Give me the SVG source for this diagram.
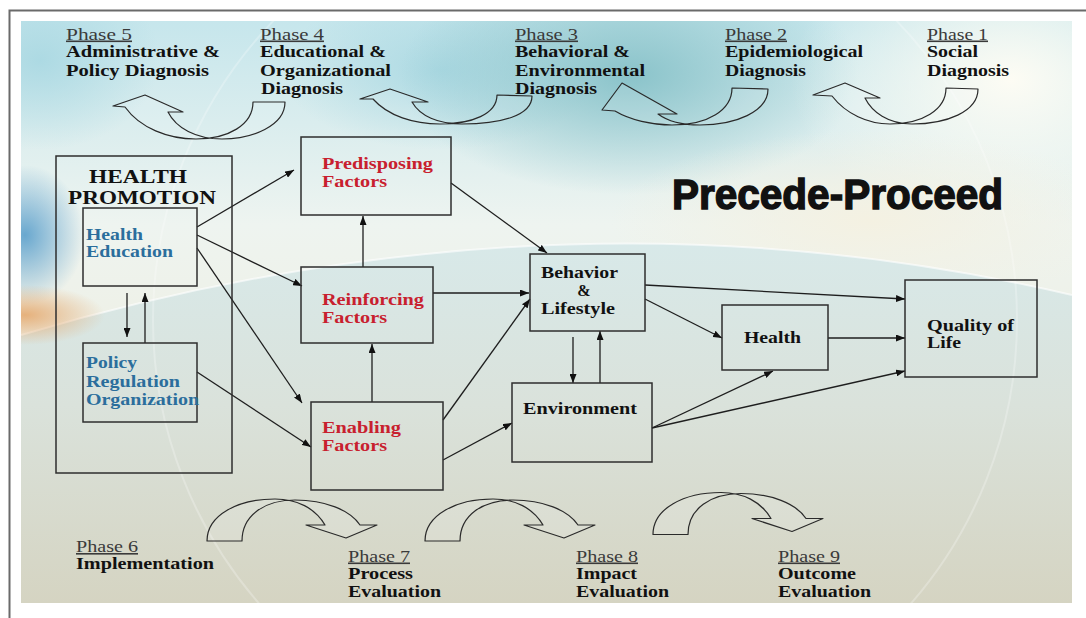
<svg xmlns="http://www.w3.org/2000/svg" width="1086" height="618" viewBox="0 0 1086 618">
<defs>
<style>
.ph{font-family:"Liberation Serif",serif;font-size:16px;fill:#3a3a3a;text-decoration:underline;}
.bd{font-family:"Liberation Serif",serif;font-size:16px;font-weight:bold;fill:#111;}
.red{font-family:"Liberation Serif",serif;font-size:16px;font-weight:bold;fill:#c8202e;}
.blue{font-family:"Liberation Serif",serif;font-size:16px;font-weight:bold;fill:#2b6e9c;}
.hp{font-family:"Liberation Serif",serif;font-size:18px;font-weight:bold;fill:#111;}
.title{font-family:"Liberation Sans",Arial,sans-serif;font-size:42px;font-weight:bold;fill:#111;stroke:#111;stroke-width:1.4;}
.box{fill:none;stroke:#2e2e2e;stroke-width:1.5;}
.con{stroke:#1e1e1e;stroke-width:1.3;fill:none;marker-end:url(#ah);}
.curv{fill:#ffffff;fill-opacity:0.12;stroke:#2a2a2a;stroke-width:1.2;stroke-linejoin:round;}
</style>
<marker id="ah" markerUnits="userSpaceOnUse" markerWidth="9" markerHeight="7" refX="9" refY="3.5" orient="auto">
<path d="M0,0 L9,3.5 L0,7 Z" fill="#111"/>
</marker>
<linearGradient id="gbase" x1="0" y1="0" x2="0" y2="1">
<stop offset="0" stop-color="#c6e6ec"/>
<stop offset="0.35" stop-color="#eef4f0"/>
<stop offset="0.5" stop-color="#eef1e8"/>
<stop offset="1" stop-color="#e2e2d4"/>
</linearGradient>
<linearGradient id="gdome" x1="0" y1="0" x2="0" y2="1">
<stop offset="0" stop-color="#d8e9e9"/>
<stop offset="0.45" stop-color="#dae2db"/>
<stop offset="1" stop-color="#d5d4c2"/>
</linearGradient>
<radialGradient id="gteal" cx="0.5" cy="0.5" r="0.5">
<stop offset="0" stop-color="#86c1c8" stop-opacity="0.95"/>
<stop offset="1" stop-color="#86c1c8" stop-opacity="0"/>
</radialGradient>
<radialGradient id="gblue" cx="0.5" cy="0.5" r="0.5">
<stop offset="0" stop-color="#5a9fcb" stop-opacity="0.9"/>
<stop offset="1" stop-color="#5a9fcb" stop-opacity="0"/>
</radialGradient>
<radialGradient id="gorange" cx="0.5" cy="0.5" r="0.5">
<stop offset="0" stop-color="#e5aa70" stop-opacity="0.9"/>
<stop offset="1" stop-color="#e5aa70" stop-opacity="0"/>
</radialGradient>
<radialGradient id="gcream" cx="0.5" cy="0.5" r="0.5">
<stop offset="0" stop-color="#fdfcf4" stop-opacity="1"/>
<stop offset="1" stop-color="#fdfcf4" stop-opacity="0"/>
</radialGradient>
<radialGradient id="gcream2" cx="0.5" cy="0.5" r="0.5">
<stop offset="0" stop-color="#f4f1e2" stop-opacity="1"/>
<stop offset="1" stop-color="#f4f1e2" stop-opacity="0"/>
</radialGradient>
<radialGradient id="glblue" cx="0.5" cy="0.5" r="0.5">
<stop offset="0" stop-color="#a9d8e2" stop-opacity="0.9"/>
<stop offset="1" stop-color="#a9d8e2" stop-opacity="0"/>
</radialGradient>
<clipPath id="bgclip"><rect x="21" y="21" width="1051" height="582"/></clipPath>
</defs>

<rect x="0" y="0" width="1086" height="618" fill="#ffffff"/>
<path d="M9.5,618 L9.5,10.5 L1086,10.5" fill="none" stroke="#6a6a6a" stroke-width="2"/>

<g id="background" clip-path="url(#bgclip)">
<rect x="21" y="21" width="1051" height="582" fill="url(#gbase)"/>
<ellipse cx="440" cy="70" rx="160" ry="80" fill="url(#glblue)"/>
<ellipse cx="630" cy="75" rx="230" ry="120" fill="url(#gteal)"/>
<ellipse cx="40" cy="60" rx="120" ry="90" fill="url(#glblue)"/>
<ellipse cx="1010" cy="80" rx="220" ry="150" fill="url(#gcream)"/>
<ellipse cx="870" cy="220" rx="260" ry="90" fill="url(#gcream2)"/>
<ellipse cx="25" cy="235" rx="60" ry="70" fill="url(#gblue)"/>
<path d="M21,335 Q560,175 1072,295 L1072,603 L21,603 Z" fill="url(#gdome)"/>
<path d="M21,335 Q560,175 1072,295" fill="none" stroke="#ffffff" stroke-opacity="0.6" stroke-width="2"/>
<ellipse cx="25" cy="315" rx="80" ry="30" fill="url(#gorange)"/>
<circle cx="585" cy="320" r="432" fill="none" stroke="#ffffff" stroke-opacity="0.25" stroke-width="2"/>
</g>

<g id="curved-arrows">
<path id="arc-p5" class="curv" d="M253,102 L285,102 C285,126 252,139 222,139 C196,139 176,128 168,112 L183,112 L145,95 L113,106 L125,107 C140,128 168,139 196,139 C228,139 253,125 253,102 Z"/>
<path id="arc-p4" class="curv" d="M497,95 L532,96 C532,116 500,124 462,124 C438,124 420,116 412,102 L428,102 L390,89 L360,99 L373,99 C388,116 414,124 440,124 C472,124 497,114 497,95 Z"/>
<path id="arc-p3" class="curv" d="M732,88 L768,89 C768,112 735,125 700,125 C680,125 666,120 658,114 L677,114 L622,83 L602,110 L615,111 C630,120 652,125 672,125 C708,125 732,110 732,88 Z"/>
<path id="arc-p2" class="curv" d="M946,88 L978,89 C978,112 946,124 912,124 C888,124 872,112 865,98 L880,98 L845,83 L813,95 L832,96 C846,114 868,124 890,124 C922,124 946,110 946,88 Z"/>
<path id="arc-p6" class="curv" d="M207,541 L242,541 C242,515 265,500 295,500 C325,500 350,510 360,525 L377,525 L346,538 L306,525 L325,525 C315,508 297,499 275,499 C238,499 207,515 207,541 Z"/>
<path id="arc-p7" class="curv" transform="translate(218,0)" d="M207,541 L242,541 C242,515 265,500 295,500 C325,500 350,510 360,525 L377,525 L346,538 L306,525 L325,525 C315,508 297,499 275,499 C238,499 207,515 207,541 Z"/>
<path id="arc-p8" class="curv" transform="translate(446,-6.5)" d="M207,541 L242,541 C242,515 265,500 295,500 C325,500 350,510 360,525 L377,525 L346,538 L306,525 L325,525 C315,508 297,499 275,499 C238,499 207,515 207,541 Z"/>
</g>

<g id="phase-labels">
<text class="ph" x="66" y="39.5" textLength="66" lengthAdjust="spacingAndGlyphs">Phase 5</text>
<text class="bd" x="66" y="57" textLength="154" lengthAdjust="spacingAndGlyphs">Administrative &amp;</text>
<text class="bd" x="66" y="75.5" textLength="143" lengthAdjust="spacingAndGlyphs">Policy Diagnosis</text>
<text class="ph" x="260" y="39.5" textLength="64" lengthAdjust="spacingAndGlyphs">Phase 4</text>
<text class="bd" x="260" y="57" textLength="126" lengthAdjust="spacingAndGlyphs">Educational &amp;</text>
<text class="bd" x="260" y="75.5" textLength="131" lengthAdjust="spacingAndGlyphs">Organizational</text>
<text class="bd" x="261" y="93.5" textLength="82" lengthAdjust="spacingAndGlyphs">Diagnosis</text>
<text class="ph" x="515" y="39.5" textLength="63" lengthAdjust="spacingAndGlyphs">Phase 3</text>
<text class="bd" x="515" y="57" textLength="115" lengthAdjust="spacingAndGlyphs">Behavioral &amp;</text>
<text class="bd" x="515" y="75.5" textLength="130" lengthAdjust="spacingAndGlyphs">Environmental</text>
<text class="bd" x="515" y="93.5" textLength="82" lengthAdjust="spacingAndGlyphs">Diagnosis</text>
<text class="ph" x="725" y="39.5" textLength="62" lengthAdjust="spacingAndGlyphs">Phase 2</text>
<text class="bd" x="725" y="57" textLength="138" lengthAdjust="spacingAndGlyphs">Epidemiological</text>
<text class="bd" x="725" y="75.5" textLength="81" lengthAdjust="spacingAndGlyphs">Diagnosis</text>
<text class="ph" x="927" y="39.5" textLength="61" lengthAdjust="spacingAndGlyphs">Phase 1</text>
<text class="bd" x="927" y="57" textLength="51" lengthAdjust="spacingAndGlyphs">Social</text>
<text class="bd" x="927" y="75.5" textLength="82" lengthAdjust="spacingAndGlyphs">Diagnosis</text>
<text class="ph" x="76" y="552" textLength="62" lengthAdjust="spacingAndGlyphs">Phase 6</text>
<text class="bd" x="76" y="568.5" textLength="138" lengthAdjust="spacingAndGlyphs">Implementation</text>
<text class="ph" x="348" y="561.5" textLength="62" lengthAdjust="spacingAndGlyphs">Phase 7</text>
<text class="bd" x="348" y="579" textLength="65" lengthAdjust="spacingAndGlyphs">Process</text>
<text class="bd" x="348" y="596.5" textLength="93" lengthAdjust="spacingAndGlyphs">Evaluation</text>
<text class="ph" x="576" y="561.5" textLength="62" lengthAdjust="spacingAndGlyphs">Phase 8</text>
<text class="bd" x="576" y="579" textLength="61" lengthAdjust="spacingAndGlyphs">Impact</text>
<text class="bd" x="576" y="596.5" textLength="93" lengthAdjust="spacingAndGlyphs">Evaluation</text>
<text class="ph" x="778" y="561.5" textLength="62" lengthAdjust="spacingAndGlyphs">Phase 9</text>
<text class="bd" x="778" y="579" textLength="78" lengthAdjust="spacingAndGlyphs">Outcome</text>
<text class="bd" x="778" y="596.5" textLength="93" lengthAdjust="spacingAndGlyphs">Evaluation</text>
</g>

<text class="title" x="672" y="209" textLength="331" lengthAdjust="spacingAndGlyphs">Precede-Proceed</text>

<g id="connectors">
<line class="con" x1="197" y1="227" x2="294" y2="170"/>
<line class="con" x1="197" y1="235" x2="302" y2="286"/>
<line class="con" x1="197" y1="248" x2="302" y2="403"/>
<line class="con" x1="127" y1="293" x2="127" y2="337"/>
<line class="con" x1="145" y1="343" x2="145" y2="293"/>
<line class="con" x1="197" y1="372" x2="311" y2="447"/>
<line class="con" x1="363" y1="267" x2="363" y2="216"/>
<line class="con" x1="372" y1="402" x2="372" y2="344"/>
<line class="con" x1="451" y1="183" x2="547" y2="253"/>
<line class="con" x1="433" y1="293" x2="529" y2="293"/>
<line class="con" x1="443" y1="420" x2="530" y2="299"/>
<line class="con" x1="443" y1="460" x2="512" y2="423"/>
<line class="con" x1="573" y1="337" x2="573" y2="383"/>
<line class="con" x1="600" y1="383" x2="600" y2="331"/>
<line class="con" x1="645" y1="285" x2="905" y2="299"/>
<line class="con" x1="645" y1="299" x2="722" y2="338"/>
<line class="con" x1="828" y1="338" x2="905" y2="338"/>
<line class="con" x1="652" y1="428" x2="773" y2="371"/>
<line class="con" x1="652" y1="428" x2="905" y2="371"/>
</g>

<g id="health-promotion">
<rect class="box" x="56" y="156" width="176" height="317"/>
<text class="hp" x="89" y="183" textLength="98" lengthAdjust="spacingAndGlyphs">HEALTH</text>
<text class="hp" x="68" y="204" textLength="148" lengthAdjust="spacingAndGlyphs">PROMOTION</text>
</g>
<g id="health-education">
<rect class="box" x="83" y="208" width="114" height="78"/>
<text class="blue" x="86" y="240" textLength="57" lengthAdjust="spacingAndGlyphs">Health</text>
<text class="blue" x="86" y="257" textLength="87" lengthAdjust="spacingAndGlyphs">Education</text>
</g>
<g id="policy">
<rect class="box" x="83" y="343" width="114" height="79"/>
<text class="blue" x="86" y="368" textLength="51" lengthAdjust="spacingAndGlyphs">Policy</text>
<text class="blue" x="86" y="386.5" textLength="94" lengthAdjust="spacingAndGlyphs">Regulation</text>
<text class="blue" x="86" y="405" textLength="113" lengthAdjust="spacingAndGlyphs">Organization</text>
</g>
<g id="predisposing">
<rect class="box" x="301" y="137" width="150" height="78"/>
<text class="red" x="322" y="169" textLength="111" lengthAdjust="spacingAndGlyphs">Predisposing</text>
<text class="red" x="322" y="187" textLength="65" lengthAdjust="spacingAndGlyphs">Factors</text>
</g>
<g id="reinforcing">
<rect class="box" x="301" y="267" width="132" height="76"/>
<text class="red" x="322" y="305" textLength="102" lengthAdjust="spacingAndGlyphs">Reinforcing</text>
<text class="red" x="322" y="323" textLength="65" lengthAdjust="spacingAndGlyphs">Factors</text>
</g>
<g id="enabling">
<rect class="box" x="311" y="402" width="132" height="88"/>
<text class="red" x="322" y="433" textLength="79" lengthAdjust="spacingAndGlyphs">Enabling</text>
<text class="red" x="322" y="451" textLength="65" lengthAdjust="spacingAndGlyphs">Factors</text>
</g>
<g id="behavior">
<rect class="box" x="530" y="254" width="115" height="77"/>
<text class="bd" x="541" y="278" textLength="77" lengthAdjust="spacingAndGlyphs">Behavior</text>
<text class="bd" x="584" y="296" text-anchor="middle">&amp;</text>
<text class="bd" x="541" y="314" textLength="74" lengthAdjust="spacingAndGlyphs">Lifestyle</text>
</g>
<g id="environment">
<rect class="box" x="512" y="383" width="140" height="79"/>
<text class="bd" x="523" y="414" textLength="114" lengthAdjust="spacingAndGlyphs">Environment</text>
</g>
<g id="health">
<rect class="box" x="722" y="305" width="106" height="65"/>
<text class="bd" x="744" y="342.5" textLength="57" lengthAdjust="spacingAndGlyphs">Health</text>
</g>
<g id="quality">
<rect class="box" x="905" y="280" width="132" height="97"/>
<text class="bd" x="927" y="330.5" textLength="87" lengthAdjust="spacingAndGlyphs">Quality of</text>
<text class="bd" x="927" y="348" textLength="34" lengthAdjust="spacingAndGlyphs">Life</text>
</g>
</svg>
